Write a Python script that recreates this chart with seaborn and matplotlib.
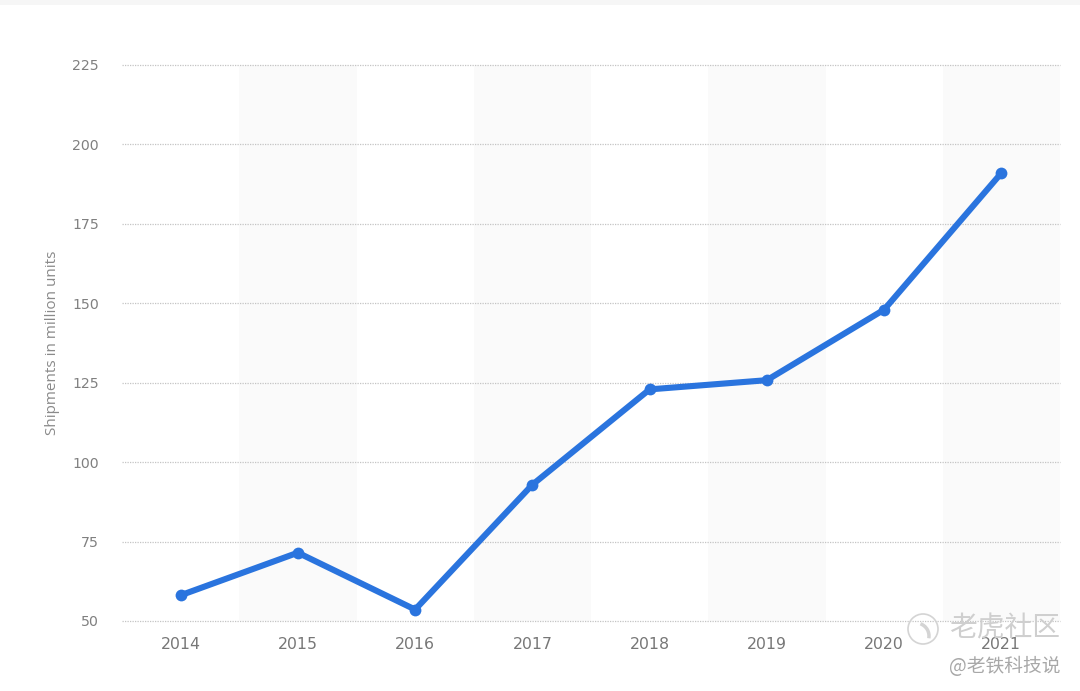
import matplotlib as mpl
mpl.use("Agg")
import matplotlib.pyplot as plt
from matplotlib.patches import Circle, Arc
import seaborn as sns
import pandas as pd

years = ["2014", "2015", "2016", "2017", "2018", "2019", "2020", "2021"]
shipments = [58.1, 71.5, 53.6, 92.9, 122.9, 125.8, 148.0, 191.0]
y_ticks = [50, 75, 100, 125, 150, 175, 200, 225]

df = pd.DataFrame({"year": years, "shipments": shipments})

sns.set_theme(style="white")
plt.rcParams["font.family"] = ["DejaVu Sans", "Noto Sans CJK SC"]

fig = plt.figure(figsize=(10.8, 6.91), dpi=100)
ax = fig.add_axes([122 / 1080, 1 - 621 / 691, (1060 - 122) / 1080, (621 - 65) / 691])

# alternating bands behind the odd categories
for i in range(1, len(years), 2):
    ax.axvspan(i - 0.5, i + 0.5, color="#fafafa", lw=0, zorder=0)

sns.lineplot(data=df, x="year", y="shipments", color="#2a74de", lw=4.4,
             marker="o", markersize=8.5, markeredgewidth=0, ax=ax, zorder=3)

ax.set_xlim(-0.5, 7.5)
ax.set_ylim(50, 225)
ax.set_yticks(y_ticks)
ax.grid(axis="y", color="#c4c4c4", lw=0.9, ls=(0, (1, 1)))
for line in ax.get_ygridlines():
    line.set_clip_on(False)
ax.set_axisbelow(True)
sns.despine(ax=ax, left=True, bottom=True, top=True, right=True)

ax.tick_params(axis="x", length=0, pad=11.5, labelsize=11.3, labelcolor="#777777")
ax.tick_params(axis="y", length=0, pad=16.5, labelsize=10.2, labelcolor="#808080")
ax.set_xlabel("")
ax.set_ylabel("Shipments in million units", fontsize=11, color="#8a8a8a",
              family="Open Sans")
ax.yaxis.set_label_coords((60 - 122) / 938, 0.5 + (621 - 343 - 278) / 556)

# top border strip and watermark
fig.add_artist(plt.Line2D([0, 1], [1 - 2 / 691, 1 - 2 / 691], color="#f6f6f6", lw=3.5))
fig.add_artist(Circle((923, 691 - 629), 15, transform=None, fill=False,
                      ec="#d4d4d4", lw=1.2))
fig.add_artist(Arc((916, 691 - 636), 26, 26, theta1=-10, theta2=70, transform=None,
                   ec="#d4d4d4", lw=2.5))
fig.text(1060 / 1080, 1 - 628 / 691, "老虎社区", ha="right", va="center",
         fontsize=20, color="#cfcfcf", family="Noto Sans CJK SC")
fig.text(1060 / 1080, 1 - 666 / 691, "@老铁科技说", ha="right", va="center",
         fontsize=13.5, color="#a8a8a8", family="Noto Sans CJK SC")

plt.savefig("out.png", dpi=100)
